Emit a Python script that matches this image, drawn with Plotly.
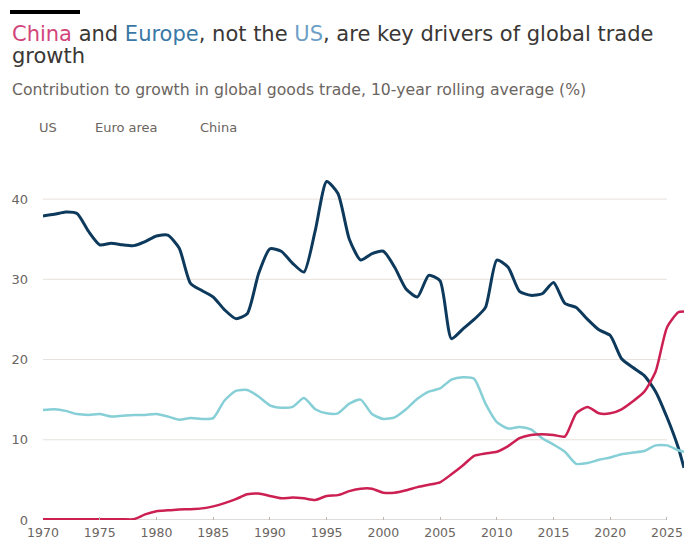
"""FT-style line chart: contribution to growth in global goods trade."""

import plotly.graph_objects as go

# ---- data (10-year rolling average, %) ----
years = list(range(1970, 2027)) + [2026.5]

us = [
    37.9, 38.1, 38.4, 38.2, 36.0, 34.3, 34.5, 34.3, 34.2, 34.7,
    35.4, 35.5, 33.9, 29.5, 28.6, 27.8, 26.2, 25.1, 25.7, 30.7,
    33.8, 33.5, 32.0, 30.9, 36.1, 42.2, 40.7, 35.0, 32.4, 33.2,
    33.5, 31.5, 28.8, 27.8, 30.5, 29.8, 22.6, 23.8, 25.0, 26.5,
    32.4, 31.5, 28.5, 28.0, 28.2, 29.6, 27.0, 26.5, 25.0, 23.7,
    23.0, 20.1, 19.0, 18.0, 16.0, 12.8, 9.0, 6.5,
]

euro_area = [
    13.7, 13.8, 13.6, 13.2, 13.1, 13.2, 12.9, 13.0, 13.1, 13.1,
    13.2, 12.9, 12.5, 12.7, 12.6, 12.7, 14.9, 16.1, 16.2, 15.4,
    14.3, 14.0, 14.1, 15.2, 13.8, 13.3, 13.3, 14.5, 15.0, 13.2,
    12.6, 12.8, 13.8, 15.1, 16.0, 16.4, 17.5, 17.8, 17.6, 14.5,
    12.2, 11.4, 11.6, 11.3, 10.2, 9.4, 8.5, 7.0, 7.1, 7.5,
    7.8, 8.2, 8.4, 8.6, 9.3, 9.3, 8.7, 8.5,
]

china = [
    0.1, 0.1, 0.1, 0.1, 0.1, 0.1, 0.1, 0.1, 0.1, 0.7,
    1.1, 1.2, 1.3, 1.35, 1.45, 1.7, 2.1, 2.6, 3.2, 3.3,
    3.0, 2.7, 2.8, 2.7, 2.5, 3.0, 3.1, 3.6, 3.9, 3.9,
    3.4, 3.4, 3.7, 4.1, 4.4, 4.7, 5.7, 6.8, 8.0, 8.3,
    8.5, 9.2, 10.2, 10.6, 10.7, 10.6, 10.4, 13.3, 14.1, 13.3,
    13.3, 13.8, 14.8, 16.0, 18.5, 24.0, 25.9, 26.0,
]

x_ticks = list(range(1970, 2030, 5))
y_ticks = [0, 10, 20, 30, 40]

# ---- styling ----
WIDTH, HEIGHT = 684, 540
MARGIN = dict(l=43, r=0, t=167, b=20)
X_RANGE = [1970, 2026.5]
Y_RANGE = [0, 44]
GRID_END = 2025

FONT = "DejaVu Sans"
TEXT_DARK = "#3a3735"
TEXT_GREY = "#6b6561"
COLORS = {"US": "#0d3a5c", "Euro area": "#86cfd6", "China": "#cc1f52"}


def paper_x(px: float) -> float:
    """Convert a pixel x position to paper coordinates."""
    return (px - MARGIN["l"]) / (WIDTH - MARGIN["l"] - MARGIN["r"])


def paper_y(py: float) -> float:
    """Convert a pixel y position (from top) to paper coordinates."""
    plot_h = HEIGHT - MARGIN["t"] - MARGIN["b"]
    return (HEIGHT - MARGIN["b"] - py) / plot_h


def label(text, px, py, size, color=TEXT_GREY):
    """Left-aligned free text placed by pixels."""
    return dict(
        text=text, x=paper_x(px), y=paper_y(py), xref="paper", yref="paper",
        xanchor="left", yanchor="middle", align="left", showarrow=False,
        font=dict(family=FONT, size=size, color=color),
    )


fig = go.Figure()

for name, values, width in [
    ("US", us, 3),
    ("Euro area", euro_area, 2.5),
    ("China", china, 2.5),
]:
    fig.add_trace(
        go.Scatter(
            x=years,
            y=values,
            name=name,
            mode="lines",
            line=dict(color=COLORS[name], width=width, shape="spline", smoothing=0.6),
            showlegend=False,
        )
    )

# Gridlines stop at 2025 like the original; baseline a bit darker
shapes = []
for yv in y_ticks:
    shapes.append(
        dict(
            type="line", xref="x", yref="y", x0=X_RANGE[0], x1=GRID_END, y0=yv, y1=yv,
            line=dict(color="#bdb6b0" if yv == 0 else "#e6e1dc", width=1),
            layer="below",
        )
    )

# Black bar above the title
shapes.append(
    dict(
        type="line", xref="paper", yref="paper",
        x0=paper_x(10), x1=paper_x(80), y0=paper_y(12), y1=paper_y(12),
        line=dict(color="#000000", width=4),
    )
)

title_line1 = (
    "<span style='color:#d2467a'>China</span> and "
    "<span style='color:#3a78a6'>Europe</span>, not the "
    "<span style='color:#6d9fc6'>US</span>, are key drivers of global trade"
)

annotations = [
    label(title_line1, 10, 34, 21, TEXT_DARK),
    label("growth", 10, 56, 21, TEXT_DARK),
    label("Contribution to growth in global goods trade, 10-year rolling average (%)",
          10, 89, 15.7),
]

# Legend as plain labels (no swatches in the original)
for text, px in [("US", 37), ("Euro area", 93), ("China", 198)]:
    annotations.append(label(text, px, 127, 13))

fig.update_layout(
    width=WIDTH,
    height=HEIGHT,
    margin=MARGIN,
    paper_bgcolor="white",
    plot_bgcolor="white",
    font=dict(family=FONT, color=TEXT_GREY, size=12),
    shapes=shapes,
    annotations=annotations,
    hovermode=False,
    xaxis=dict(
        range=X_RANGE,
        tickvals=x_ticks,
        showgrid=False,
        zeroline=False,
        showline=False,
        ticks="inside",
        ticklen=3,
        tickcolor="#bdb6b0",
        ticklabelstandoff=3,
        tickfont=dict(size=12.5, color=TEXT_GREY),
    ),
    yaxis=dict(
        range=Y_RANGE,
        tickvals=y_ticks,
        showgrid=False,
        zeroline=False,
        showline=False,
        ticklabelstandoff=14,
        tickfont=dict(size=13, color=TEXT_GREY),
    ),
)

# drop the default page margin so the figure sits at the window's corner
fig.write_html(
    "out.html",
    config=dict(displayModeBar=False),
    post_script="document.body.style.margin='0';document.body.style.overflow='hidden';",
)
